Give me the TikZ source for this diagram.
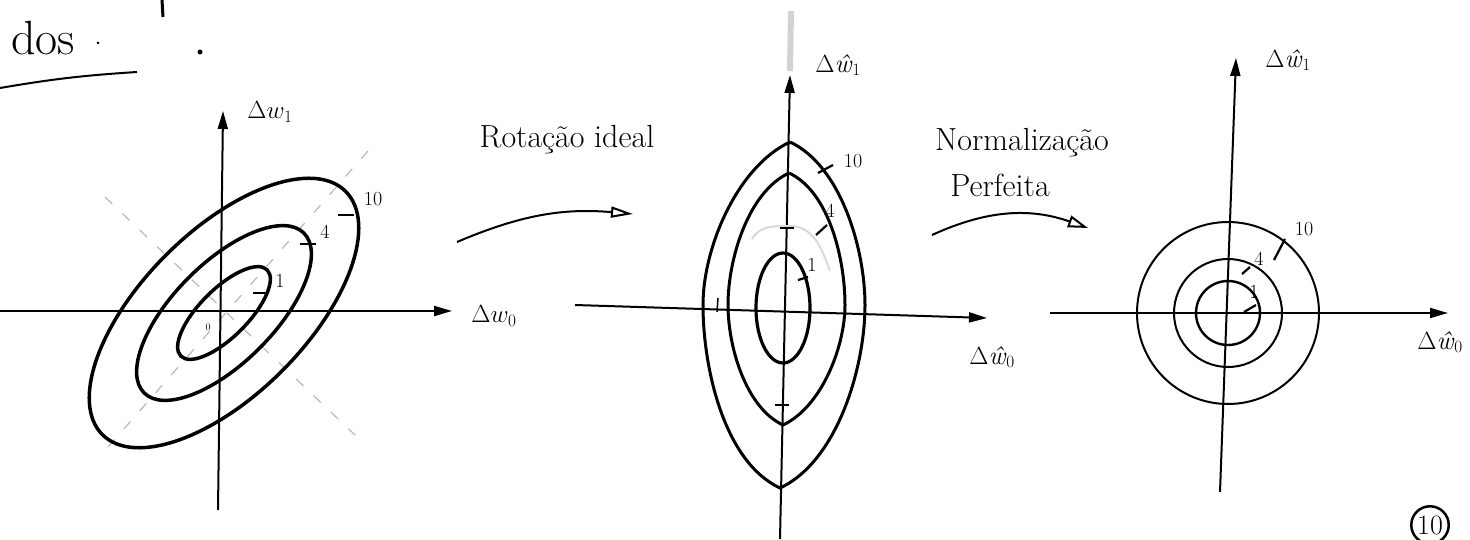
\documentclass[tikz,border=0pt]{standalone}
\usetikzlibrary{arrows.meta}
\begin{document}
\begin{tikzpicture}[x=1pt,y=1pt,
  axis/.style={draw,line width=2pt,-{Triangle[length=18pt,width=10pt]}},
  lvl/.style={draw,line width=3.5pt},
  guide/.style={draw,gray!55,line width=1.2pt,dash pattern=on 10pt off 14pt},
  tickmark/.style={draw,line width=2.2pt},
  big/.style={font=\fontsize{32}{36}\selectfont},
  lab/.style={font=\fontsize{26}{28}\selectfont},
  num/.style={font=\fontsize{20}{22}\selectfont}]
\useasboundingbox (0,0) rectangle (1470,539);

% cabecalho
\node[font=\fontsize{48}{50}\selectfont] (dos) at (43,501) {dos};
\path[draw,line width=2pt] (0,451) to[bend left=3] (137,467);
\fill (98,496) circle (1.5pt);
\fill (200,487) circle (2.5pt);
\path[draw,line width=3pt] (162,539) -- (163,522);

% painel 1: elipses inclinadas
\coordinate (a0) at (224,226);
\coordinate (ax0) at (0,228);
\coordinate (ax1) at (452,228);
\coordinate (ay0) at (218,29);
\coordinate (ay1) at (223,428);
\path[guide] (108,92) -- (375,396);
\path[guide] (105,342) -- (355,104);
\path[axis] (ax0) -- (ax1);
\path[axis] (ay0) -- (ay1);
\path[lvl,rotate around={45:(a0)}] (a0) ellipse (172pt and 82pt);
\path[lvl,rotate around={45:(a0)}] (a0) ellipse (113pt and 50pt);
\path[lvl,rotate around={45:(a0)}] (a0) ellipse (61pt and 24pt);
\path[tickmark] (253,246) -- (268,246);
\path[tickmark] (300,295) -- (316,295);
\path[tickmark] (338,324) -- (354,324);
\node[num] (a1) at (280,258) {1};
\node[num] (a4) at (325,307) {4};
\node[num] (a10) at (373,340) {10};
\node[font=\fontsize{10}{11}\selectfont] (a00) at (208,212) {0};
\node[lab] (aw1) at (270,427) {$\Delta w_1$};
\node[lab] (aw0) at (494,223) {$\Delta w_0$};

% seta: rotacao
\coordinate (r0) at (457,297);
\coordinate (r1) at (633,325);
\path[draw,line width=2pt,-{Triangle[open,length=22pt,width=11pt]}] (r0) to[bend left=14] (r1);
\node[big] (rot) at (567,399) {Rotação ideal};

% painel 2: elipses alinhadas
\coordinate (bx0) at (575,234);
\coordinate (bx1) at (987,221);
\coordinate (by0) at (780,0);
\coordinate (by1) at (790,464);
\path[draw,gray!35,line width=6pt] (790,468) -- (791,528);
\path[axis] (bx0) -- (bx1);
\path[axis] (by0) -- (by1);
\path[draw,gray!30,line width=2pt] (752,300) to[out=60,in=180] (790,313) to[out=0,in=110] (830,268);
\path[draw,line width=3pt,looseness=0.8] (790,397) to[out=205,in=90] (703,234) to[out=-90,in=155] (780,51)
  to[out=25,in=-90] (865,234) to[out=90,in=-25] (790,397);
\path[draw,line width=3pt,looseness=0.8] (789,366) to[out=205,in=90] (728,234) to[out=-90,in=155] (783,114)
  to[out=25,in=-90] (845,234) to[out=90,in=-25] (789,366);
\path[draw,line width=3.2pt] (783,231) ellipse (27pt and 55pt);
\path[tickmark] (818,366) -- (833,374);
\path[tickmark] (816,304) -- (827,314);
\path[tickmark] (798,259) -- (808,262);
\path[draw,line width=1.5pt] (780,311) -- (794,311);
\path[draw,line width=1.5pt] (775,134) -- (789,134);
\path[draw,line width=1.5pt] (717,227) -- (718,241);
\node[num] (b10) at (853,378) {10};
\node[num] (b4) at (830,328) {4};
\node[num] (b1) at (812,274) {1};
\node[lab] (bw1) at (838,474) {$\Delta$\textit{ŵ}$_1$};
\node[lab] (bw0) at (992,182) {$\Delta$\textit{ŵ}$_0$};

% seta: normalizacao
\coordinate (n0) at (932,304);
\coordinate (n1) at (1088,311);
\path[draw,line width=2pt,-{Triangle[open,length=20pt,width=12pt]}] (n0) to[bend left=22] (n1);
\node[big] (norm) at (1022,396) {Normalização};
\node[big] (perf) at (1000,354) {Perfeita};

% painel 3: circulos
\coordinate (c0) at (1228,226);
\coordinate (cx0) at (1050,226);
\coordinate (cx1) at (1448,226);
\coordinate (cy0) at (1220,47);
\coordinate (cy1) at (1236,481);
\path[axis] (cx0) -- (cx1);
\path[axis] (cy0) -- (cy1);
\path[draw,line width=2pt] (c0) circle (91pt);
\path[draw,line width=2pt] (c0) circle (54pt);
\path[draw,line width=2.4pt] (c0) circle (32pt);
\path[tickmark] (1274,279) -- (1285,300);
\path[tickmark] (1242,265) -- (1250,272);
\path[tickmark] (1244,227) -- (1256,234);
\node[num] (c10) at (1304,310) {10};
\node[num] (c4) at (1259,280) {4};
\node[num] (c1) at (1254,247) {1};
\node[lab] (cw1) at (1288,479) {$\Delta$\textit{ŵ}$_1$};
\node[lab] (cw0) at (1440,197) {$\Delta$\textit{ŵ}$_0$};

% pagina
\node[draw,circle,line width=2.5pt,inner sep=2pt,font=\fontsize{28}{30}\selectfont] (pg) at (1430,14) {10};
\end{tikzpicture}
\end{document}
